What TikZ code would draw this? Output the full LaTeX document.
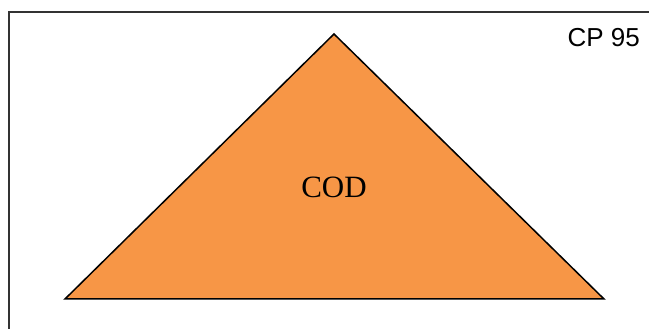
\documentclass[tikz,border=0pt]{standalone}
\usepackage{fontspec}
\setmainfont{Liberation Serif}
\newfontfamily\arialfont{Liberation Sans}
\definecolor{codorange}{HTML}{F79646}
\tikzset{
  frame/.style={draw=black!80, line width=1.4pt},
  tri/.style={fill=codorange, draw=black, line width=1.5pt, line join=miter},
}
\begin{document}
\begin{tikzpicture}[x=1pt,y=1pt]
\useasboundingbox (0,0) rectangle (649,329);
\coordinate (fbl) at (9,0);
\coordinate (ftl) at (9,317);
\coordinate (ftr) at (649,317);
\draw[frame] (fbl) -- (ftl) -- (ftr);
\coordinate (apex) at (334,295);
\coordinate (bl) at (65,30);
\coordinate (br) at (604,30);
\draw[tri] (apex) -- (br) -- (bl) -- cycle;
\node (cod) at (334,142) {\fontsize{31}{36}\selectfont COD};
\node[anchor=east, inner sep=0pt] (cp) at (640,291) {\arialfont\fontsize{26}{30}\selectfont CP 95};
\end{tikzpicture}
\end{document}
